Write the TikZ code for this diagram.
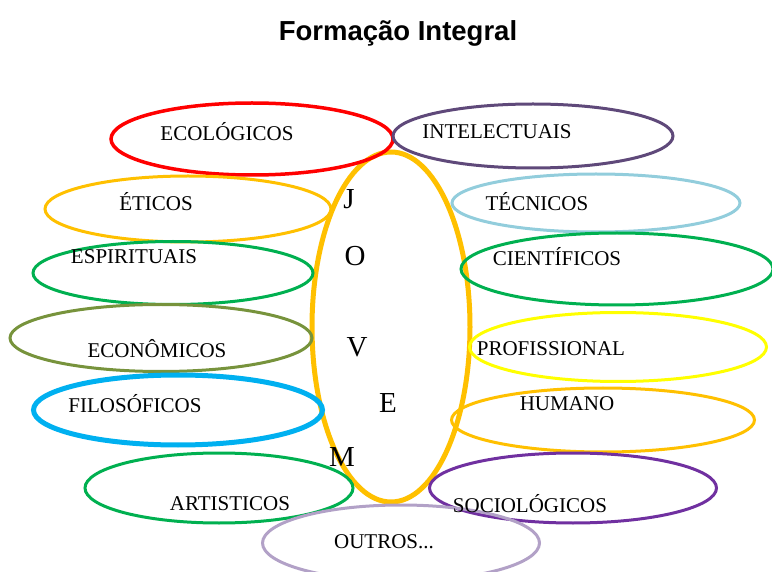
\documentclass[tikz,border=0pt]{standalone}
\usepackage{fontspec}
\setmainfont{Liberation Serif}
\newfontfamily\titlefont{Liberation Sans}
\usetikzlibrary{shapes.geometric}
\definecolor{cRed}{HTML}{FF0000}
\definecolor{cPurpleD}{HTML}{5F497A}
\definecolor{cGold}{HTML}{FFC000}
\definecolor{cLBlue}{HTML}{92CDDC}
\definecolor{cGreen}{HTML}{00B050}
\definecolor{cOlive}{HTML}{77933C}
\definecolor{cYellow}{HTML}{FFFF00}
\definecolor{cBlue}{HTML}{00B0F0}
\definecolor{cPurple}{HTML}{7030A0}
\definecolor{cLav}{HTML}{B2A1C7}
\tikzset{
  ell/.style={ellipse, draw, line width=3pt, inner sep=0pt},
  lab/.style={font=\fontsize{21}{21}\selectfont, inner sep=0pt, anchor=center},
  big/.style={font=\fontsize{29}{29}\selectfont, inner sep=0pt, anchor=center},
}
\begin{document}
\begin{tikzpicture}[x=1pt,y=-1pt]
\useasboundingbox (0,0) rectangle (772,572);
% title
\node[font=\titlefont\bfseries\fontsize{27.5}{28}\selectfont, inner sep=0pt] (title) at (398,33) {Formação Integral};
% central ellipse
\node[ell, draw=cGold, line width=5pt, minimum width=158pt, minimum height=350pt] (jovemE) at (391,327) {};
\node[big] (J) at (349,199) {J};
\node[big] (O) at (355,256) {O};
\node[big] (V) at (357,347) {V};
\node[big] (E) at (388,403) {E};
\node[big] (M) at (342,457) {M};
% ellipses
\node[ell, draw=cRed, line width=3.5pt, minimum width=282pt, minimum height=72pt] (ecoE) at (252,139) {};
\node[ell, draw=cPurpleD, minimum width=280pt, minimum height=64pt] (intE) at (533,136) {};
\node[ell, draw=cGold, minimum width=286pt, minimum height=66pt] (etiE) at (188,209) {};
\node[ell, draw=cLBlue, minimum width=288pt, minimum height=58pt] (tecE) at (596,203) {};
\node[ell, draw=cGreen, minimum width=280pt, minimum height=63pt] (espE) at (173,273) {};
\node[ell, draw=cGreen, minimum width=312pt, minimum height=72pt] (cieE) at (617,269) {};
\node[ell, draw=cOlive, minimum width=302pt, minimum height=67pt] (ecnE) at (161,338) {};
\node[ell, draw=cYellow, minimum width=297pt, minimum height=69pt] (proE) at (618,347) {};
\node[ell, draw=cBlue, line width=5pt, minimum width=289pt, minimum height=70pt] (filE) at (178,410) {};
\node[ell, draw=cGold, minimum width=303pt, minimum height=64pt] (humE) at (603,420) {};
\node[ell, draw=cGreen, minimum width=268pt, minimum height=70pt] (artE) at (219,488) {};
\node[ell, draw=cPurple, minimum width=287pt, minimum height=70pt] (socE) at (573,488) {};
\node[ell, draw=cLav, minimum width=277pt, minimum height=76pt] (outE) at (401,543) {};
% labels
\node[lab] (eco) at (227,132) {ECOLÓGICOS};
\node[lab] (int) at (497,132) {INTELECTUAIS};
\node[lab] (eti) at (156,202) {ÉTICOS};
\node[lab] (tec) at (537,202) {TÉCNICOS};
\node[lab] (esp) at (134,257) {ESPIRITUAIS};
\node[lab] (cie) at (557,257) {CIENTÍFICOS};
\node[lab] (ecn) at (157,349) {ECONÔMICOS};
\node[lab] (pro) at (551,349) {PROFISSIONAL};
\node[lab] (fil) at (135,404) {FILOSÓFICOS};
\node[lab] (hum) at (567,404) {HUMANO};
\node[lab] (art) at (230,504) {ARTISTICOS};
\node[lab] (soc) at (530,504) {SOCIOLÓGICOS};
\node[lab] (out) at (384,542) {OUTROS...};
\end{tikzpicture}
\end{document}
